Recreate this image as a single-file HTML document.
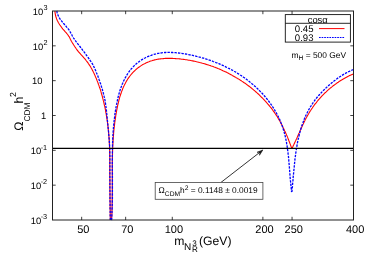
<!DOCTYPE html>
<html><head><meta charset="utf-8"><style>
html,body{margin:0;padding:0;background:#fff;}
svg{display:block;font-family:"Liberation Sans",sans-serif;will-change:transform;}
text{text-rendering:geometricPrecision;}
</style></head><body>
<svg width="370" height="259" viewBox="0 0 370 259">
<rect width="370" height="259" fill="#fff"/>
<g fill="none" stroke="#ff0000" stroke-width="1.1" stroke-linejoin="round"><path d="M54.9,11.0 L55.0,12.0 L55.1,13.1 L55.3,14.1 L55.5,15.1 L55.7,16.0 L56.0,17.0 L56.3,17.9 L56.6,18.9 L57.0,19.8 L57.4,20.7 L57.9,21.6 L58.3,22.5 L58.8,23.3 L59.4,24.2 L59.9,25.0 L60.5,25.8 L61.1,26.7 L61.7,27.5 L62.3,28.3 L62.9,29.1 L63.6,29.8 L64.3,30.6 L64.9,31.4 L65.6,32.2 L66.3,32.9 L66.9,33.7 L67.6,34.5 L68.2,35.3 L68.7,36.1 L69.3,36.9 L69.7,37.8 L70.1,38.6 L70.5,39.5 L71.0,40.4 L71.4,41.3 L72.0,42.2 L72.5,43.1 L73.1,43.9 L73.6,44.8 L74.2,45.7 L74.7,46.5 L75.3,47.3 L75.9,48.2 L76.4,49.0 L77.0,49.8 L77.6,50.6 L78.2,51.4 L78.8,52.1 L79.5,52.9 L80.2,53.7 L80.8,54.4 L81.5,55.2 L82.2,55.9 L82.9,56.7 L83.5,57.4 L84.2,58.2 L84.9,58.9 L85.5,59.7 L86.1,60.5 L86.8,61.3 L87.4,62.1 L88.0,62.9 L88.5,63.7 L89.1,64.6 L89.6,65.4 L90.2,66.2 L90.7,67.1 L91.2,68.0 L91.7,68.8 L92.2,69.7 L92.6,70.6 L93.1,71.5 L93.5,72.4 L94.0,73.3 L94.4,74.2 L94.8,75.1 L95.2,76.0 L95.6,77.0 L96.0,77.9 L96.4,78.8 L96.8,79.8 L97.1,80.7 L97.5,81.6 L97.9,82.6 L98.2,83.5 L98.5,84.5 L98.9,85.4 L99.2,86.4 L99.5,87.3 L99.9,88.3 L100.2,89.2 L100.5,90.2 L100.8,91.2 L101.1,92.1 L101.3,93.1 L101.6,94.1 L101.9,95.0 L102.2,96.0 L102.4,97.0 L102.7,97.9 L102.9,98.9 L103.2,99.9 L103.4,100.9 L103.7,101.8 L103.9,102.8 L104.1,103.8 L104.3,104.8 L104.6,105.8 L104.8,106.7 L105.0,107.7 L105.2,108.7 L105.4,109.7 L105.6,110.7 L105.7,111.7 L105.9,112.7 L106.1,113.7 L106.3,114.6 L106.4,115.6 L106.6,116.6 L106.8,117.6 L106.9,118.6 L107.1,119.6 L107.2,120.6 L107.4,121.6 L107.5,122.6 L107.6,123.6 L107.8,124.6 L107.9,125.6 L108.0,126.6 L108.1,127.6 L108.2,128.6 L108.3,129.6 L108.4,130.6 L108.5,131.6 L108.6,132.6 L108.7,133.6 L108.8,134.6 L108.9,135.6 L109.0,136.6 L109.0,137.6 L109.1,138.6 L109.2,139.6 L109.2,140.6 L109.3,141.6 L109.3,142.6 L109.4,143.6 L109.4,144.6 L109.5,145.6 L109.5,146.6 L109.6,147.6 L109.6,148.6 L109.6,149.6 L109.7,150.6 L109.7,151.6 L109.7,152.6 L109.7,153.6 L109.7,154.6 L109.7,155.6 L109.8,156.7 L109.8,157.7 L109.8,158.7 L109.8,159.7 L109.8,160.7 L109.8,161.7 L109.8,162.7 L109.8,163.7 L109.8,164.7 L109.8,165.7 L109.8,166.7 L109.8,167.7 L109.8,168.8 L109.8,169.8 L109.8,170.8 L109.8,171.8 L109.8,172.8 L109.8,173.8 L109.8,174.8 L109.8,175.8 L109.8,176.8 L109.8,177.8 L109.9,178.8 L109.9,179.9 L109.9,180.9 L109.9,181.9 L109.9,182.9 L109.9,183.9 L109.9,184.9 L109.9,185.9 L109.9,186.9 L109.9,187.9 L109.9,188.9 L109.9,189.9 L109.9,190.9 L109.9,191.9 L110.0,192.9 L110.0,194.0 L110.0,195.0 L110.0,196.0 L110.0,197.0 L110.0,198.0 L110.0,199.0 L110.0,200.0 L110.0,201.0 L110.1,202.0 L110.1,203.0 L110.1,204.0 L110.1,205.0 L110.1,206.0 L110.1,207.0 L110.1,208.0 L110.1,209.0 L110.2,210.0 L110.2,211.0 L110.2,212.0 L110.2,213.0 L110.2,214.0 L110.2,215.0 L110.2,216.0 L110.3,217.0 L110.3,218.0 L110.3,219.0 L110.3,220.0 M111.6,220.1 L111.6,219.1 L111.7,218.0 L111.7,217.0 L111.8,215.9 L111.8,214.9 L111.9,213.9 L111.9,212.8 L111.9,211.8 L112.0,210.8 L112.0,209.8 L112.0,208.7 L112.1,207.7 L112.1,206.7 L112.1,205.7 L112.1,204.7 L112.1,203.6 L112.2,202.6 L112.2,201.6 L112.2,200.6 L112.2,199.6 L112.2,198.6 L112.2,197.6 L112.2,196.6 L112.2,195.6 L112.2,194.6 L112.3,193.6 L112.3,192.6 L112.3,191.6 L112.3,190.6 L112.3,189.6 L112.3,188.6 L112.3,187.6 L112.3,186.6 L112.3,185.6 L112.3,184.6 L112.3,183.6 L112.3,182.6 L112.3,181.6 L112.3,180.6 L112.3,179.6 L112.3,178.6 L112.3,177.6 L112.3,176.6 L112.3,175.6 L112.3,174.7 L112.3,173.7 L112.3,172.7 L112.3,171.7 L112.3,170.7 L112.3,169.7 L112.3,168.7 L112.3,167.7 L112.3,166.8 L112.3,165.8 L112.3,164.8 L112.3,163.8 L112.3,162.8 L112.3,161.8 L112.3,160.8 L112.4,159.9 L112.4,158.9 L112.4,157.9 L112.4,156.9 L112.4,155.9 L112.5,154.9 L112.5,153.9 L112.5,153.0 L112.5,152.0 L112.6,151.0 L112.6,150.0 L112.7,149.0 L112.7,148.0 L112.7,147.0 L112.8,146.0 L112.8,145.1 L112.9,144.1 L112.9,143.1 L113.0,142.1 L113.0,141.1 L113.1,140.1 L113.2,139.1 L113.2,138.1 L113.3,137.1 L113.4,136.1 L113.5,135.1 L113.6,134.1 L113.6,133.1 L113.7,132.1 L113.8,131.1 L113.9,130.1 L114.0,129.1 L114.1,128.1 L114.2,127.1 L114.4,126.1 L114.5,125.1 L114.6,124.1 L114.7,123.1 L114.8,122.1 L115.0,121.1 L115.1,120.1 L115.3,119.1 L115.4,118.1 L115.6,117.1 L115.7,116.0 L115.9,115.0 L116.1,114.0 L116.2,113.0 L116.4,112.0 L116.6,110.9 L116.8,109.9 L117.0,108.9 L117.2,107.9 L117.4,106.8 L117.6,105.8 L117.8,104.8 L118.1,103.8 L118.3,102.8 L118.6,101.8 L118.8,100.7 L119.1,99.7 L119.4,98.7 L119.6,97.7 L119.9,96.7 L120.2,95.8 L120.5,94.8 L120.9,93.8 L121.2,92.8 L121.5,91.9 L121.9,90.9 L122.3,90.0 L122.6,89.0 L123.0,88.1 L123.4,87.1 L123.8,86.2 L124.3,85.3 L124.7,84.4 L125.2,83.5 L125.6,82.7 L126.1,81.8 L126.6,80.9 L127.1,80.1 L127.6,79.2 L128.2,78.4 L128.7,77.6 L129.3,76.8 L129.9,76.0 L130.4,75.3 L131.1,74.5 L131.7,73.8 L132.3,73.1 L133.0,72.3 L133.7,71.6 L134.4,71.0 L135.1,70.3 L135.8,69.7 L136.5,69.0 L137.3,68.4 L138.0,67.8 L138.8,67.2 L139.6,66.7 L140.4,66.1 L141.2,65.6 L142.0,65.1 L142.9,64.6 L143.7,64.1 L144.6,63.7 L145.5,63.2 L146.3,62.8 L147.2,62.4 L148.1,62.0 L149.0,61.7 L149.9,61.3 L150.8,61.0 L151.8,60.7 L152.7,60.4 L153.6,60.2 L154.6,59.9 L155.5,59.7 L156.5,59.5 L157.5,59.3 L158.4,59.1 L159.4,59.0 L160.4,58.9 L161.4,58.8 L162.4,58.7 L163.4,58.6 L164.4,58.5 L165.4,58.4 L166.4,58.4 L167.4,58.4 L168.4,58.4 L169.4,58.4 L170.4,58.4 L171.4,58.4 L172.4,58.4 L173.5,58.5 L174.5,58.5 L175.5,58.6 L176.5,58.7 L177.5,58.7 L178.6,58.8 L179.6,58.9 L180.6,59.0 L181.6,59.2 L182.6,59.3 L183.6,59.4 L184.6,59.5 L185.7,59.7 L186.7,59.8 L187.7,60.0 L188.7,60.2 L189.7,60.3 L190.7,60.5 L191.7,60.7 L192.7,60.9 L193.7,61.1 L194.7,61.3 L195.7,61.5 L196.6,61.8 L197.6,62.0 L198.6,62.2 L199.6,62.5 L200.6,62.7 L201.6,63.0 L202.5,63.3 L203.5,63.5 L204.5,63.8 L205.5,64.1 L206.4,64.4 L207.4,64.7 L208.4,65.0 L209.3,65.3 L210.3,65.6 L211.2,66.0 L212.2,66.3 L213.1,66.6 L214.1,67.0 L215.0,67.3 L216.0,67.7 L216.9,68.1 L217.8,68.5 L218.8,68.8 L219.7,69.2 L220.6,69.6 L221.5,70.0 L222.5,70.4 L223.4,70.9 L224.3,71.3 L225.2,71.7 L226.1,72.1 L227.0,72.6 L227.9,73.0 L228.8,73.5 L229.7,73.9 L230.6,74.4 L231.5,74.9 L232.3,75.4 L233.2,75.9 L234.1,76.4 L235.0,76.9 L235.8,77.4 L236.7,77.9 L237.5,78.4 L238.4,78.9 L239.2,79.4 L240.1,80.0 L240.9,80.5 L241.8,81.1 L242.6,81.6 L243.4,82.2 L244.2,82.8 L245.1,83.3 L245.9,83.9 L246.7,84.5 L247.5,85.1 L248.3,85.7 L249.1,86.3 L249.9,86.9 L250.7,87.5 L251.5,88.2 L252.2,88.8 L253.0,89.4 L253.8,90.1 L254.5,90.7 L255.3,91.4 L256.0,92.0 L256.8,92.7 L257.5,93.3 L258.3,94.0 L259.0,94.7 L259.7,95.4 L260.4,96.1 L261.1,96.8 L261.8,97.5 L262.6,98.2 L263.2,98.9 L263.9,99.6 L264.6,100.4 L265.3,101.1 L266.0,101.8 L266.6,102.6 L267.3,103.3 L267.9,104.1 L268.6,104.8 L269.2,105.6 L269.8,106.4 L270.5,107.1 L271.1,107.9 L271.7,108.7 L272.3,109.5 L272.9,110.3 L273.4,111.1 L274.0,111.9 L274.6,112.7 L275.1,113.5 L275.7,114.3 L276.2,115.2 L276.8,116.0 L277.3,116.8 L277.8,117.7 L278.3,118.5 L278.8,119.4 L279.3,120.2 L279.8,121.1 L280.3,122.0 L280.7,122.8 L281.2,123.7 L281.7,124.6 L282.1,125.5 L282.6,126.4 L283.0,127.3 L283.5,128.2 L283.9,129.1 L284.3,130.0 L284.7,130.9 L285.2,131.8 L285.6,132.7 L286.0,133.6 L286.4,134.6 L286.8,135.5 L287.2,136.4 L287.6,137.4 L288.0,138.3 L288.3,139.3 L288.7,140.3 L289.1,141.2 L289.5,142.2 L289.8,143.1 L290.2,144.1 L290.6,145.1 L290.9,146.1 L291.3,147.1 L291.7,148.1 M292.2,147.9 L292.7,147.0 L293.1,146.0 L293.6,145.1 L294.1,144.1 L294.5,143.2 L294.9,142.3 L295.4,141.3 L295.8,140.4 L296.2,139.4 L296.7,138.5 L297.1,137.6 L297.5,136.6 L297.9,135.7 L298.3,134.8 L298.7,133.8 L299.2,132.9 L299.6,132.0 L300.0,131.0 L300.4,130.1 L300.8,129.2 L301.2,128.3 L301.6,127.4 L302.1,126.4 L302.5,125.5 L302.9,124.6 L303.4,123.7 L303.8,122.8 L304.2,121.9 L304.7,121.0 L305.1,120.1 L305.6,119.2 L306.0,118.3 L306.5,117.5 L307.0,116.6 L307.5,115.7 L308.0,114.8 L308.5,114.0 L309.0,113.1 L309.5,112.2 L310.0,111.4 L310.6,110.5 L311.1,109.7 L311.7,108.8 L312.3,108.0 L312.8,107.2 L313.4,106.3 L314.0,105.5 L314.6,104.7 L315.2,103.9 L315.9,103.1 L316.5,102.3 L317.1,101.5 L317.8,100.7 L318.4,99.9 L319.1,99.2 L319.8,98.4 L320.5,97.6 L321.1,96.9 L321.8,96.1 L322.5,95.4 L323.3,94.6 L324.0,93.9 L324.7,93.2 L325.4,92.5 L326.2,91.8 L326.9,91.1 L327.7,90.4 L328.5,89.7 L329.2,89.0 L330.0,88.4 L330.8,87.7 L331.6,87.1 L332.4,86.4 L333.2,85.8 L334.0,85.2 L334.8,84.6 L335.7,84.0 L336.5,83.4 L337.3,82.8 L338.2,82.2 L339.0,81.6 L339.9,81.1 L340.7,80.5 L341.6,80.0 L342.4,79.5 L343.3,79.0 L344.2,78.5 L345.1,78.0 L346.0,77.5 L346.9,77.0 L347.8,76.5 L348.7,76.1 L349.6,75.6 L350.5,75.2 L351.4,74.8 L352.3,74.4 L353.2,74.0"/></g>
<g fill="none" stroke="#0000ff" stroke-width="1.3" stroke-dasharray="2.4 1.1" stroke-linejoin="round"><path d="M56.8,11.0 L57.0,12.0 L57.2,13.0 L57.5,14.0 L57.9,14.9 L58.3,15.8 L58.7,16.7 L59.2,17.6 L59.7,18.4 L60.3,19.3 L60.8,20.1 L61.5,20.9 L62.1,21.7 L62.7,22.5 L63.4,23.3 L64.1,24.0 L64.7,24.8 L65.4,25.6 L66.1,26.3 L66.7,27.1 L67.4,27.8 L68.0,28.6 L68.6,29.4 L69.2,30.2 L69.7,31.1 L70.2,32.0 L70.7,32.9 L71.2,33.8 L71.7,34.6 L72.1,35.5 L72.6,36.4 L73.1,37.2 L73.6,38.1 L74.2,38.9 L74.7,39.7 L75.3,40.5 L75.9,41.4 L76.5,42.2 L77.2,43.0 L77.8,43.8 L78.4,44.6 L79.0,45.4 L79.7,46.2 L80.3,47.0 L80.9,47.8 L81.5,48.6 L82.1,49.4 L82.7,50.2 L83.4,51.0 L84.0,51.8 L84.6,52.6 L85.2,53.4 L85.7,54.2 L86.3,55.0 L86.9,55.8 L87.5,56.6 L88.1,57.5 L88.7,58.3 L89.3,59.1 L89.8,60.0 L90.4,60.8 L91.0,61.7 L91.5,62.5 L92.1,63.4 L92.6,64.2 L93.0,65.1 L93.5,66.0 L93.9,66.9 L94.4,67.8 L94.8,68.7 L95.2,69.6 L95.6,70.5 L96.0,71.5 L96.3,72.4 L96.7,73.3 L97.1,74.3 L97.5,75.2 L97.8,76.1 L98.2,77.1 L98.5,78.0 L98.9,79.0 L99.2,79.9 L99.6,80.9 L99.9,81.8 L100.2,82.8 L100.6,83.8 L100.9,84.7 L101.2,85.7 L101.5,86.7 L101.8,87.6 L102.1,88.6 L102.4,89.6 L102.6,90.5 L102.9,91.5 L103.2,92.5 L103.4,93.5 L103.7,94.5 L103.9,95.4 L104.1,96.4 L104.4,97.4 L104.6,98.4 L104.8,99.4 L105.0,100.4 L105.2,101.4 L105.3,102.4 L105.5,103.4 L105.6,104.3 L105.8,105.3 L105.9,106.3 L106.0,107.3 L106.2,108.3 L106.3,109.3 L106.4,110.3 L106.5,111.3 L106.6,112.3 L106.7,113.3 L106.8,114.3 L106.9,115.3 L107.0,116.3 L107.1,117.3 L107.2,118.3 L107.3,119.3 L107.4,120.3 L107.5,121.3 L107.6,122.3 L107.7,123.3 L107.8,124.3 L107.9,125.3 L108.0,126.3 L108.1,127.3 L108.2,128.3 L108.3,129.3 L108.4,130.3 L108.5,131.3 L108.6,132.3 L108.7,133.3 L108.7,134.3 L108.8,135.3 L108.9,136.3 L109.0,137.3 L109.1,138.3 L109.2,139.3 L109.3,140.4 L109.3,141.4 L109.4,142.4 L109.5,143.4 L109.5,144.4 L109.6,145.4 L109.6,146.4 L109.7,147.4 L109.7,148.4 L109.8,149.4 L109.8,150.4 L109.8,151.4 L109.8,152.5 L109.9,153.5 L109.9,154.5 L109.9,155.5 L109.9,156.5 L109.9,157.5 L109.9,158.5 L109.9,159.5 L109.9,160.5 L109.9,161.5 L109.9,162.6 L109.9,163.6 L109.9,164.6 L109.9,165.6 L109.9,166.6 L109.9,167.6 L109.9,168.6 L109.9,169.6 L109.9,170.6 L109.9,171.7 L109.9,172.7 L109.9,173.7 L109.9,174.7 L109.9,175.7 L109.9,176.7 L109.9,177.7 L109.9,178.7 L109.9,179.7 L109.9,180.8 L109.9,181.8 L109.9,182.8 L109.9,183.8 L109.9,184.8 L109.9,185.8 L109.9,186.8 L109.9,187.8 L109.9,188.8 L109.9,189.8 L110.0,190.8 L110.0,191.9 L110.0,192.9 L110.0,193.9 L110.0,194.9 L110.0,195.9 L110.0,196.9 L110.0,197.9 L110.0,198.9 L110.0,199.9 L110.0,200.9 L110.1,201.9 L110.1,202.9 L110.1,203.9 L110.1,204.9 L110.1,205.9 L110.1,207.0 L110.1,208.0 L110.1,209.0 L110.2,210.0 L110.2,211.0 L110.2,212.0 L110.2,213.0 L110.2,214.0 L110.2,215.0 L110.2,216.0 L110.3,217.0 L110.3,218.0 L110.3,219.0 L110.3,220.0 M111.5,220.1 L111.6,219.0 L111.7,218.0 L111.7,217.0 L111.8,216.0 L111.9,214.9 L111.9,213.9 L112.0,212.9 L112.0,211.9 L112.0,210.8 L112.1,209.8 L112.1,208.8 L112.2,207.8 L112.2,206.8 L112.2,205.8 L112.3,204.7 L112.3,203.7 L112.3,202.7 L112.3,201.7 L112.3,200.7 L112.4,199.7 L112.4,198.7 L112.4,197.7 L112.4,196.7 L112.4,195.7 L112.4,194.7 L112.4,193.7 L112.4,192.7 L112.4,191.7 L112.4,190.7 L112.4,189.7 L112.4,188.7 L112.4,187.7 L112.4,186.7 L112.4,185.7 L112.4,184.7 L112.4,183.7 L112.4,182.7 L112.4,181.7 L112.4,180.7 L112.4,179.7 L112.4,178.7 L112.4,177.7 L112.4,176.7 L112.4,175.7 L112.4,174.7 L112.4,173.7 L112.4,172.8 L112.3,171.8 L112.3,170.8 L112.3,169.8 L112.3,168.8 L112.3,167.8 L112.3,166.8 L112.3,165.8 L112.3,164.8 L112.3,163.8 L112.3,162.9 L112.3,161.9 L112.3,160.9 L112.3,159.9 L112.3,158.9 L112.3,157.9 L112.3,156.9 L112.3,155.9 L112.3,154.9 L112.3,154.0 L112.4,153.0 L112.4,152.0 L112.4,151.0 L112.4,150.0 L112.4,149.0 L112.4,148.0 L112.5,147.0 L112.5,146.0 L112.5,145.0 L112.6,144.1 L112.6,143.1 L112.6,142.1 L112.7,141.1 L112.7,140.1 L112.7,139.1 L112.8,138.1 L112.8,137.1 L112.9,136.1 L112.9,135.1 L113.0,134.1 L113.1,133.1 L113.1,132.1 L113.2,131.1 L113.3,130.1 L113.4,129.1 L113.4,128.1 L113.5,127.1 L113.6,126.1 L113.7,125.1 L113.8,124.1 L113.9,123.1 L114.0,122.1 L114.1,121.1 L114.2,120.1 L114.3,119.1 L114.5,118.1 L114.6,117.1 L114.7,116.1 L114.8,115.0 L115.0,114.0 L115.1,113.0 L115.3,112.0 L115.4,111.0 L115.6,110.0 L115.8,108.9 L115.9,107.9 L116.1,106.9 L116.3,105.9 L116.5,104.9 L116.7,103.8 L116.9,102.8 L117.1,101.8 L117.3,100.8 L117.5,99.8 L117.8,98.8 L118.0,97.8 L118.2,96.8 L118.5,95.8 L118.8,94.8 L119.0,93.8 L119.3,92.8 L119.6,91.8 L119.9,90.8 L120.2,89.8 L120.5,88.9 L120.9,87.9 L121.2,86.9 L121.6,86.0 L121.9,85.0 L122.3,84.1 L122.7,83.2 L123.1,82.2 L123.5,81.3 L123.9,80.4 L124.4,79.5 L124.8,78.6 L125.3,77.7 L125.8,76.9 L126.3,76.0 L126.8,75.2 L127.3,74.3 L127.8,73.5 L128.4,72.7 L128.9,71.9 L129.5,71.1 L130.1,70.3 L130.7,69.5 L131.3,68.8 L132.0,68.1 L132.6,67.3 L133.3,66.6 L134.0,65.9 L134.7,65.3 L135.4,64.6 L136.1,64.0 L136.9,63.3 L137.6,62.7 L138.4,62.1 L139.2,61.6 L140.0,61.0 L140.8,60.4 L141.6,59.9 L142.4,59.4 L143.3,58.9 L144.1,58.4 L145.0,58.0 L145.9,57.5 L146.7,57.1 L147.6,56.7 L148.5,56.3 L149.4,55.9 L150.3,55.6 L151.3,55.3 L152.2,54.9 L153.1,54.6 L154.0,54.4 L155.0,54.1 L155.9,53.9 L156.9,53.6 L157.8,53.4 L158.8,53.3 L159.8,53.1 L160.7,53.0 L161.7,52.8 L162.7,52.7 L163.7,52.6 L164.7,52.5 L165.6,52.5 L166.6,52.4 L167.6,52.4 L168.6,52.4 L169.6,52.4 L170.6,52.4 L171.6,52.5 L172.6,52.5 L173.6,52.6 L174.6,52.6 L175.6,52.7 L176.6,52.8 L177.6,52.9 L178.6,53.0 L179.6,53.1 L180.7,53.3 L181.7,53.4 L182.7,53.6 L183.7,53.7 L184.7,53.9 L185.7,54.0 L186.7,54.2 L187.7,54.4 L188.7,54.6 L189.7,54.8 L190.7,55.0 L191.7,55.2 L192.7,55.4 L193.7,55.7 L194.7,55.9 L195.7,56.1 L196.7,56.4 L197.7,56.6 L198.7,56.9 L199.6,57.1 L200.6,57.4 L201.6,57.7 L202.6,58.0 L203.6,58.2 L204.5,58.5 L205.5,58.8 L206.5,59.1 L207.5,59.5 L208.4,59.8 L209.4,60.1 L210.3,60.4 L211.3,60.8 L212.3,61.1 L213.2,61.5 L214.2,61.8 L215.1,62.2 L216.1,62.6 L217.0,62.9 L217.9,63.3 L218.9,63.7 L219.8,64.1 L220.7,64.5 L221.7,64.9 L222.6,65.3 L223.5,65.7 L224.4,66.2 L225.3,66.6 L226.2,67.1 L227.1,67.5 L228.0,68.0 L228.9,68.4 L229.8,68.9 L230.7,69.4 L231.6,69.8 L232.5,70.3 L233.4,70.8 L234.2,71.3 L235.1,71.8 L236.0,72.3 L236.8,72.8 L237.7,73.4 L238.5,73.9 L239.4,74.4 L240.2,75.0 L241.1,75.5 L241.9,76.1 L242.7,76.6 L243.5,77.2 L244.4,77.8 L245.2,78.4 L246.0,79.0 L246.8,79.6 L247.6,80.2 L248.4,80.8 L249.2,81.4 L249.9,82.0 L250.7,82.6 L251.5,83.3 L252.2,83.9 L253.0,84.5 L253.7,85.2 L254.5,85.9 L255.2,86.5 L256.0,87.2 L256.7,87.9 L257.4,88.6 L258.1,89.2 L258.8,89.9 L259.5,90.7 L260.2,91.4 L260.9,92.1 L261.6,92.8 L262.3,93.5 L263.0,94.3 L263.6,95.0 L264.3,95.8 L264.9,96.5 L265.6,97.3 L266.2,98.0 L266.8,98.8 L267.5,99.6 L268.1,100.4 L268.7,101.2 L269.3,102.0 L269.9,102.8 L270.5,103.6 L271.0,104.4 L271.6,105.2 L272.2,106.1 L272.7,106.9 L273.3,107.7 L273.8,108.6 L274.3,109.4 L274.8,110.3 L275.3,111.2 L275.8,112.0 L276.3,112.9 L276.8,113.8 L277.3,114.7 L277.7,115.5 L278.2,116.4 L278.6,117.3 L279.0,118.2 L279.5,119.1 L279.9,120.0 L280.3,120.9 L280.7,121.9 L281.0,122.8 L281.4,123.7 L281.7,124.6 L282.1,125.6 L282.4,126.5 L282.7,127.4 L283.0,128.4 L283.3,129.3 L283.6,130.3 L283.9,131.2 L284.2,132.2 L284.4,133.1 L284.7,134.1 L284.9,135.1 L285.2,136.0 L285.4,137.0 L285.6,138.0 L285.8,139.0 L286.0,139.9 L286.2,140.9 L286.4,141.9 L286.6,142.9 L286.7,143.9 L286.9,144.9 L287.1,145.9 L287.2,146.8 L287.4,147.8 L287.5,148.8 L287.6,149.8 L287.8,150.8 L287.9,151.8 L288.0,152.8 L288.1,153.8 L288.2,154.9 L288.4,155.9 L288.5,156.9 L288.6,157.9 L288.7,158.9 L288.8,159.9 L288.8,160.9 L288.9,161.9 L289.0,162.9 L289.1,163.9 L289.2,165.0 L289.3,166.0 L289.4,167.0 L289.4,168.0 L289.5,169.0 L289.6,170.0 L289.7,171.0 L289.7,172.0 L289.8,173.1 L289.9,174.1 L290.0,175.1 L290.1,176.1 L290.1,177.1 L290.2,178.1 L290.3,179.1 L290.4,180.1 L290.5,181.1 L290.6,182.1 L290.7,183.1 L290.8,184.1 L290.9,185.1 L291.0,186.1 L291.1,187.1 L291.2,188.1 L291.3,189.1 L291.4,190.1 L291.5,191.1 L291.6,192.1 M291.9,192.0 L292.0,191.0 L292.1,190.0 L292.2,189.0 L292.3,188.1 L292.4,187.1 L292.5,186.1 L292.5,185.1 L292.6,184.1 L292.7,183.1 L292.8,182.1 L292.9,181.1 L293.0,180.1 L293.1,179.1 L293.1,178.1 L293.2,177.1 L293.3,176.1 L293.4,175.1 L293.5,174.1 L293.6,173.1 L293.7,172.0 L293.8,171.0 L293.9,170.0 L294.0,169.0 L294.1,168.0 L294.2,167.0 L294.3,166.0 L294.4,164.9 L294.5,163.9 L294.6,162.9 L294.7,161.9 L294.8,160.9 L294.9,159.9 L295.0,158.9 L295.2,157.8 L295.3,156.8 L295.4,155.8 L295.6,154.8 L295.7,153.8 L295.8,152.8 L296.0,151.8 L296.1,150.7 L296.3,149.7 L296.5,148.7 L296.6,147.7 L296.8,146.7 L297.0,145.7 L297.1,144.7 L297.3,143.7 L297.5,142.7 L297.7,141.7 L297.9,140.7 L298.1,139.7 L298.3,138.7 L298.6,137.7 L298.8,136.8 L299.0,135.8 L299.3,134.8 L299.5,133.8 L299.8,132.8 L300.0,131.9 L300.3,130.9 L300.6,129.9 L300.8,129.0 L301.1,128.0 L301.4,127.0 L301.7,126.1 L302.1,125.1 L302.4,124.2 L302.7,123.2 L303.1,122.3 L303.4,121.4 L303.8,120.4 L304.1,119.5 L304.5,118.6 L304.9,117.6 L305.3,116.7 L305.7,115.8 L306.1,114.9 L306.5,114.0 L307.0,113.1 L307.4,112.2 L307.9,111.3 L308.4,110.4 L308.8,109.6 L309.3,108.7 L309.8,107.8 L310.3,107.0 L310.9,106.1 L311.4,105.2 L311.9,104.4 L312.5,103.6 L313.1,102.7 L313.6,101.9 L314.2,101.1 L314.8,100.2 L315.5,99.4 L316.1,98.6 L316.7,97.8 L317.4,97.0 L318.0,96.3 L318.7,95.5 L319.4,94.7 L320.1,93.9 L320.8,93.2 L321.5,92.4 L322.2,91.7 L322.9,90.9 L323.6,90.2 L324.4,89.5 L325.1,88.8 L325.8,88.1 L326.6,87.4 L327.3,86.7 L328.1,86.0 L328.9,85.3 L329.6,84.7 L330.4,84.0 L331.2,83.3 L331.9,82.7 L332.7,82.1 L333.5,81.4 L334.3,80.8 L335.1,80.2 L335.8,79.6 L336.6,79.0 L337.4,78.4 L338.2,77.9 L339.1,77.3 L339.9,76.7 L340.7,76.2 L341.5,75.7 L342.4,75.1 L343.2,74.6 L344.1,74.1 L345.0,73.6 L345.8,73.1 L346.7,72.7 L347.6,72.2 L348.5,71.7 L349.5,71.3 L350.4,70.8 L351.4,70.4 L352.3,70.0 L353.3,69.6"/></g>
<path d="M52.5,148.4 H353.5" stroke="#000" stroke-width="1.2" fill="none"/>
<g stroke="#222" stroke-width="1" fill="none">
<rect x="52.5" y="11.0" width="301.0" height="209.0"/>
</g>
<g stroke="#111" stroke-width="0.8" fill="none">
<path d="M81.67,220.0 V216.8 M81.67,11.0 V14.2"/><path d="M125.65,220.0 V216.8 M125.65,11.0 V14.2"/><path d="M172.28,220.0 V216.8 M172.28,11.0 V14.2"/><path d="M262.89,220.0 V216.8 M262.89,11.0 V14.2"/><path d="M292.06,220.0 V216.8 M292.06,11.0 V14.2"/><path d="M52.5,45.83 H55.7 M353.5,45.83 H350.3"/><path d="M52.5,80.67 H55.7 M353.5,80.67 H350.3"/><path d="M52.5,115.50 H55.7 M353.5,115.50 H350.3"/><path d="M52.5,150.33 H55.7 M353.5,150.33 H350.3"/><path d="M52.5,185.17 H55.7 M353.5,185.17 H350.3"/>
</g>
<g font-size="11" fill="#000"><text x="83.3" y="232.8" text-anchor="middle">50</text><text x="127.3" y="232.8" text-anchor="middle">70</text><text x="173.9" y="232.8" text-anchor="middle">100</text><text x="264.5" y="232.8" text-anchor="middle">200</text><text x="293.7" y="232.8" text-anchor="middle">250</text><text x="355.1" y="232.8" text-anchor="middle">400</text></g>
<g font-size="9.4" fill="#000"><text x="43.2" y="14.7" text-anchor="end">10</text><text x="43.5" y="10.2" font-size="7.3">3</text><text x="43.2" y="49.5" text-anchor="end">10</text><text x="43.5" y="45.0" font-size="7.3">2</text><text x="42.5" y="83.9" text-anchor="end">10</text><text x="46.2" y="118.7" text-anchor="end">1</text><text x="41.2" y="154.0" text-anchor="end">10</text><text x="40.7" y="149.5" font-size="7.3">-1</text><text x="41.2" y="188.9" text-anchor="end">10</text><text x="40.7" y="184.4" font-size="7.3">-2</text><text x="41.2" y="223.7" text-anchor="end">10</text><text x="40.7" y="219.2" font-size="7.3">-3</text></g>
<!-- legend -->
<rect x="285.3" y="14.6" width="65.1" height="27.5" fill="#fff" stroke="#111" stroke-width="0.9"/>
<path d="M285.3,23.3 H350.4" stroke="#111" stroke-width="0.9"/>
<text x="317.7" y="22.6" font-size="9.4" text-anchor="middle">cosα</text>
<text x="313.5" y="31.8" font-size="9.6" text-anchor="end">0.45</text>
<text x="313.5" y="40.9" font-size="9.6" text-anchor="end">0.93</text>
<path d="M319,28.6 H344.5" stroke="#ff0000" stroke-width="1"/>
<path d="M319,37.5 H344.5" stroke="#0000ff" stroke-width="1.2" stroke-dasharray="1.7 0.9"/>
<text x="291.6" y="58.4" font-size="8.4">m<tspan font-size="6.7" dy="1.8">H</tspan><tspan dy="-1.8"> = 500 GeV</tspan></text>
<!-- annotation -->
<path d="M221,182.4 L261.5,151.0" stroke="#000" stroke-width="0.8" fill="none"/>
<path d="M262.9,149.9 L257.0,152.3 L259.9,152.2 L259.5,155.3 Z" stroke="#000" stroke-width="0.5" fill="#222" stroke-linejoin="miter"/>
<rect x="155.2" y="182.4" width="107.7" height="16.9" fill="#fff" stroke="#444" stroke-width="0.8"/>
<text x="158.6" y="193.3" font-size="8.35">Ω<tspan font-size="6.7" dy="2.7">CDM</tspan><tspan dy="-2.7">h</tspan><tspan font-size="6.7" dy="-3">2</tspan><tspan dy="3"> = 0.1148 ± 0.0019</tspan></text>
<!-- axis labels -->
<text x="174.3" y="244.5" font-size="12.2">m</text><text x="183.9" y="250" font-size="10">N</text><text x="192.3" y="245.5" font-size="8.1">3</text><text x="191.9" y="252.4" font-size="8.1">R</text><text x="199" y="244.7" font-size="12.2">(GeV)</text>
<g transform="translate(23.1,0) rotate(-90)"><text x="-130.8" y="0" font-size="12.4">Ω</text><text x="-121.6" y="6.4" font-size="8.4">CDM</text><text x="-103.5" y="0" font-size="12.4">h</text><text x="-97" y="-7" font-size="8.8">2</text></g>
</svg>
</body></html>
